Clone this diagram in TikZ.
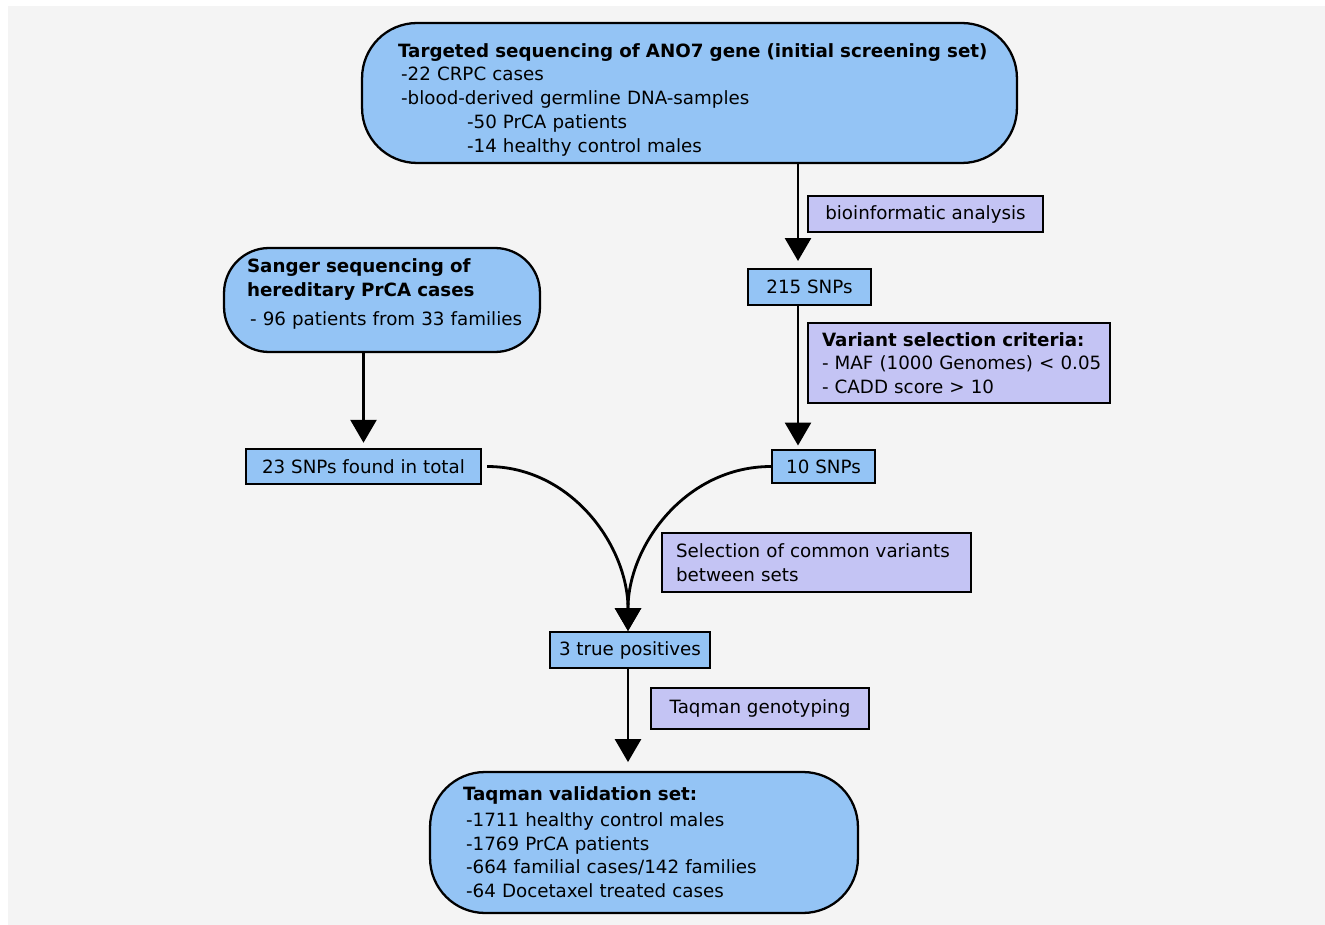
\documentclass[tikz,border=0pt]{standalone}
\usepackage{fontspec}
\setmainfont{DejaVu Sans}
\usepackage{tikz}
\usetikzlibrary{arrows.meta}

\definecolor{bgray}{HTML}{F4F4F4}
\definecolor{setblue}{HTML}{94C4F5}
\definecolor{steplilac}{HTML}{C4C4F4}

\tikzset{
  setbox/.style={draw=black,line width=1.3pt,fill=setblue,rounded corners=1.1cm,align=left},
  snpbox/.style={draw=black,line width=1.1pt,fill=setblue,minimum height=0.72cm,inner sep=0pt},
  stepbox/.style={draw=black,line width=1.1pt,fill=steplilac,inner sep=0pt},
  flow/.style={line width=1.6pt,-{Triangle[width=0.52cm,length=0.46cm]}}
}

\begin{document}
\begin{tikzpicture}[x=0.02cm,y=-0.02cm,font=\fontsize{10.4pt}{13.5pt}\selectfont]
\useasboundingbox (0,0) rectangle (1325,925);
\fill[bgray] (8,6) rectangle (1325,925);

% sets
\node[setbox,inner xsep=0.72cm,text width=11.66cm,minimum height=2.8cm] (screen) at (689.5,93)
  {\rule{0pt}{15.5pt}\mbox{\textbf{Targeted sequencing of ANO7 gene (initial screening set)}}\\
   \,-22 CRPC cases\\
   \,-blood-derived germline DNA-samples\\
   \hspace{1.38cm}-50 PrCA patients\\
   \hspace{1.38cm}-14 healthy control males};
\node[setbox,rounded corners=0.9cm,inner xsep=0.46cm,text width=5.4cm,minimum height=2.08cm] (sanger) at (382,300)
  {\textbf{Sanger sequencing of}\\
   \textbf{hereditary PrCA cases}\\[3pt]
   \mbox{\,- 96 patients from 33 families}\rule[-9pt]{0pt}{0pt}};
\node[setbox,inner xsep=0.66cm,text width=7.24cm,minimum height=2.82cm] (valid) at (644,842.5)
  {\textbf{Taqman validation set:}\\[1pt]
   \,-1711 healthy control males\\
   \,-1769 PrCA patients\\
   \,-664 familial cases/142 families\\
   \,-64 Docetaxel treated cases};

% SNP counts
\node[snpbox,minimum width=2.46cm] (snp215) at (809.5,287) {215 SNPs};
\node[snpbox,minimum width=2.06cm,minimum height=0.66cm] (snp10) at (823.5,466.5) {10 SNPs};
\node[snpbox,minimum width=4.7cm,minimum height=0.7cm] (snp23) at (363.5,466.5) {23 SNPs found in total};
\node[snpbox,minimum width=3.2cm] (truepos) at (630,650) {3 true positives};

% steps
\node[stepbox,minimum width=4.7cm,minimum height=0.72cm] (bioinf) at (925.5,214) {bioinformatic analysis};
\node[stepbox,inner xsep=0.28cm,text width=5.48cm,minimum height=1.6cm,align=left] (criteria) at (959,363)
  {\textbf{Variant selection criteria:}\\
   \mbox{- MAF (1000 Genomes) < 0.05}\\
   - CADD score > 10};
\node[stepbox,inner xsep=0.28cm,text width=5.62cm,minimum height=1.18cm,align=left] (common) at (816.5,562.5)
  {Selection of common variants\\
   between sets};
\node[stepbox,minimum width=4.36cm,minimum height=0.82cm] (taqman) at (760,708.5) {Taqman genotyping};

% connectors
\draw[flow,shorten >=4pt] (screen.south -| 798,0) -- (snp215.north -| 798,0);
\draw[flow,shorten >=2pt] (snp215.south -| 798,0) -- (snp10.north -| 798,0);
\draw[flow,shorten >=3pt] (sanger.south -| snp23.north) -- (snp23.north);
\draw[flow] ([xshift=3pt]snp23.east) to[out=0,in=90] (truepos.north -| 628,0);
\draw[flow] (snp10.west) to[out=180,in=90] (truepos.north -| 628,0);
\draw[flow,shorten >=5pt] (truepos.south -| 628,0) -- (valid.north -| 628,0);
\end{tikzpicture}
\end{document}
